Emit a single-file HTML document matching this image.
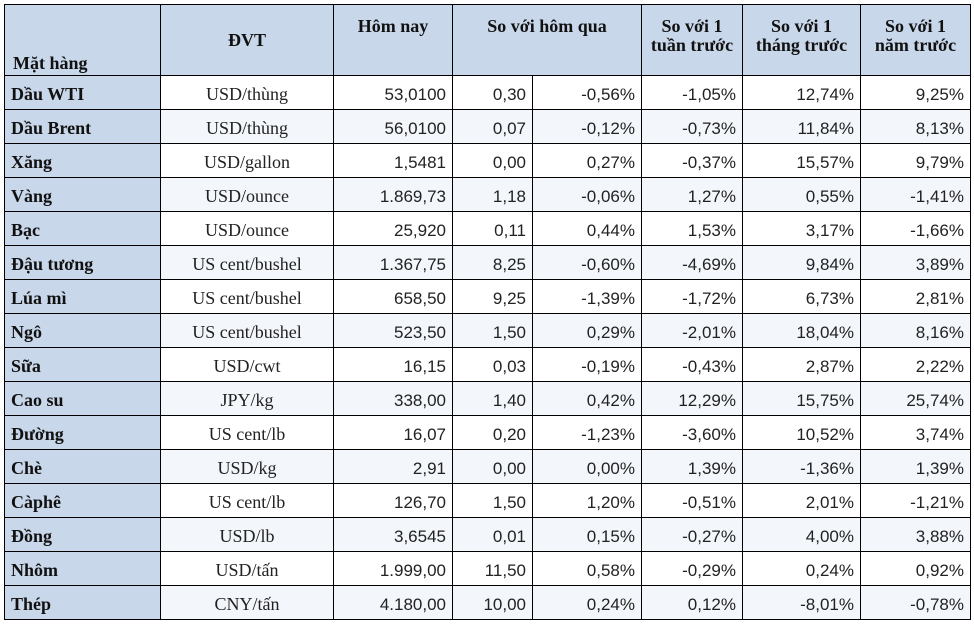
<!DOCTYPE html>
<html><head><meta charset="utf-8"><style>
body{margin:0;background:#fff;width:974px;height:633px;overflow:hidden}
table{position:absolute;left:4px;top:4px;border-collapse:collapse;table-layout:fixed}
td,th{border:1.5px solid #000;padding:0 6px;height:33px;font-size:17px;white-space:nowrap;overflow:hidden}
th{background:#c9d7ea;font-family:"Liberation Serif",serif;font-weight:bold;font-size:18px;color:#111;height:58px;line-height:19px;padding:0 4px}
td{font-family:"Liberation Sans","DejaVu Sans",sans-serif;text-align:right;color:#222;padding-top:4px;padding-bottom:0;height:29px;vertical-align:middle}
td.n{background:#c9d7ea;font-family:"Liberation Serif",serif;font-weight:bold;font-size:18px;text-align:left;color:#111}
td.u{font-family:"Liberation Serif",serif;font-size:18px;text-align:center}
tr.alt td:not(.n){background:#f3f6fb}
</style></head><body>
<table>
<colgroup><col style="width:156px"><col style="width:173px"><col style="width:119px"><col style="width:80px"><col style="width:109px"><col style="width:101px"><col style="width:118px"><col style="width:110px"></colgroup>
<thead><tr>
<th style="text-align:left;vertical-align:bottom;padding-bottom:2px;padding-left:8px">Mặt hàng</th>
<th style="vertical-align:middle">ĐVT</th>
<th style="vertical-align:top;padding-top:12px">Hôm nay</th>
<th colspan="2" style="vertical-align:top;padding-top:12px">So với hôm qua</th>
<th style="vertical-align:top;padding-top:12px">So với 1<br>tuần trước</th>
<th style="vertical-align:top;padding-top:12px">So với 1<br>tháng trước</th>
<th style="vertical-align:top;padding-top:12px">So với 1<br>năm trước</th>
</tr></thead>
<tbody id="tb"></tbody></table>
<script>
const names=["Dầu WTI","Dầu Brent","Xăng","Vàng","Bạc","Đậu tương","Lúa mì","Ngô","Sữa","Cao su","Đường","Chè","Càphê","Đồng","Nhôm","Thép"];
const units=["USD/thùng","USD/thùng","USD/gallon","USD/ounce","USD/ounce","US cent/bushel","US cent/bushel","US cent/bushel","USD/cwt","JPY/kg","US cent/lb","USD/kg","US cent/lb","USD/lb","USD/tấn","CNY/tấn"];
const today=["53,0100","56,0100","1,5481","1.869,73","25,920","1.367,75","658,50","523,50","16,15","338,00","16,07","2,91","126,70","3,6545","1.999,00","4.180,00"];
const chg=["0,30","0,07","0,00","1,18","0,11","8,25","9,25","1,50","0,03","1,40","0,20","0,00","1,50","0,01","11,50","10,00"];
const dayPct=["-0,56%","-0,12%","0,27%","-0,06%","0,44%","-0,60%","-1,39%","0,29%","-0,19%","0,42%","-1,23%","0,00%","1,20%","0,15%","0,58%","0,24%"];
const weekPct=["-1,05%","-0,73%","-0,37%","1,27%","1,53%","-4,69%","-1,72%","-2,01%","-0,43%","12,29%","-3,60%","1,39%","-0,51%","-0,27%","-0,29%","0,12%"];
const monthPct=["12,74%","11,84%","15,57%","0,55%","3,17%","9,84%","6,73%","18,04%","2,87%","15,75%","10,52%","-1,36%","2,01%","4,00%","0,24%","-8,01%"];
const yearPct=["9,25%","8,13%","9,79%","-1,41%","-1,66%","3,89%","2,81%","8,16%","2,22%","25,74%","3,74%","1,39%","-1,21%","3,88%","0,92%","-0,78%"];
const tb=document.getElementById('tb');
const cols=[["n",names,"commodity-name"],["u",units,"unit"],["",today,"price-today"],["",chg,"change-vs-yesterday"],["",dayPct,"pct-vs-yesterday"],["",weekPct,"pct-vs-week"],["",monthPct,"pct-vs-month"],["",yearPct,"pct-vs-year"]];
names.forEach((nm,i)=>{
 const tr=document.createElement('tr');
 
 
 if(i%2==1)tr.className='alt';
 cols.forEach(c=>{
  const td=document.createElement('td');
  
  
  if(c[0])td.className=c[0];
  td.textContent=c[1][i];
  tr.appendChild(td);
 });
 tb.appendChild(tr);
});
</script>
</body></html>
